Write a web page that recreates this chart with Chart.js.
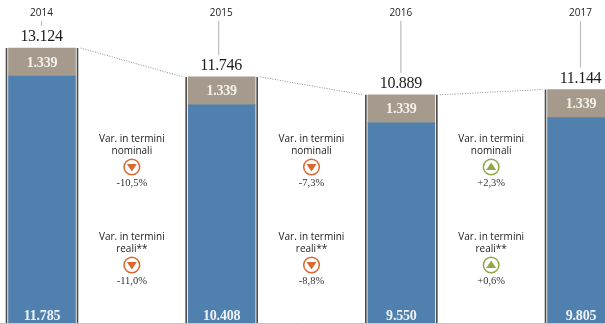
<!DOCTYPE html>
<html>
<head>
<meta charset="utf-8">
<title>Spesa 2014-2017</title>
<script src="https://cdn.jsdelivr.net/npm/chart.js@4"></script>
<style>
  html, body { margin: 0; padding: 0; background: #fff; overflow: hidden; }
  canvas { display: block; }
</style>
</head>
<body>
<canvas id="chart" width="605" height="324"></canvas>
<script>
var years = ['2014', '2015', '2016', '2017'];
var baseValues = [11785, 10408, 9550, 9805];
var topValues = [1339, 1339, 1339, 1339];
var totals = [13124, 11746, 10889, 11144];
var varNominal = [-10.5, -7.3, 2.3];
var varReal = [-11.0, -8.8, 0.6];

var SERIF = '"Liberation Serif", serif';
var SANS = '"Open Sans", sans-serif';

function dotted(n) {
  return String(n).replace(/\B(?=(\d{3})+$)/g, '.');
}

function percent(n) {
  return (n > 0 ? '+' : '') + n.toFixed(1).replace('.', ',') + '%';
}

function text(c, str, x, y, font, color, spacing) {
  c.font = font;
  c.fillStyle = color;
  c.letterSpacing = spacing || '0px';
  c.textAlign = 'center';
  c.textBaseline = 'middle';
  c.fillText(str, x, y);
}

// circle with a triangle pointing the way the value moved
function arrow(c, x, y, value) {
  var color = value < 0 ? '#d8682f' : '#8ea848';
  var dir = value < 0 ? 1 : -1;
  c.strokeStyle = color;
  c.fillStyle = color;
  c.lineWidth = 1.5;
  c.beginPath();
  c.arc(x, y, 7.8, 0, Math.PI * 2);
  c.stroke();
  c.beginPath();
  c.moveTo(x - 5, y - dir * 3);
  c.lineTo(x + 5, y - dir * 3);
  c.lineTo(x, y + dir * 4.6);
  c.closePath();
  c.fill();
}

function variationBlock(c, x, y, word, value) {
  text(c, 'Var. in termini', x, y, '10px ' + SANS, '#222', '0px');
  text(c, word, x, y + 12, '10px ' + SANS, '#222', '0px');
  arrow(c, x, y + 28, value);
  text(c, percent(value), x, y + 44, '10.5px ' + SERIF, '#333', '0px');
}

var annotations = {
  id: 'annotations',
  afterDatasetsDraw: function (chart) {
    var c = chart.ctx;
    var xs = chart.scales.x;
    var ys = chart.scales.y;
    var halfBar = chart.getDatasetMeta(0).data[0].width / 2;
    var bottom = ys.getPixelForValue(0);
    c.save();

    // dotted line joining the bar tops
    c.strokeStyle = '#8a8a8a';
    c.lineWidth = 1;
    c.setLineDash([1, 1.5]);
    for (var i = 0; i < years.length - 1; i++) {
      c.beginPath();
      c.moveTo(xs.getPixelForValue(i) + halfBar + 5, ys.getPixelForValue(totals[i]));
      c.lineTo(xs.getPixelForValue(i + 1) - halfBar - 5, ys.getPixelForValue(totals[i + 1]));
      c.stroke();
    }
    c.setLineDash([]);

    // baseline under the whole row
    c.strokeStyle = '#c4c4c4';
    c.lineWidth = 1;
    c.beginPath();
    c.moveTo(0, bottom + 0.5);
    c.lineTo(chart.width, bottom + 0.5);
    c.stroke();

    years.forEach(function (year, i) {
      var x = xs.getPixelForValue(i);
      var top = ys.getPixelForValue(totals[i]);

      // dark rules on both sides of each bar
      c.strokeStyle = '#4a4a4a';
      c.lineWidth = 1.6;
      [-1, 1].forEach(function (side) {
        c.beginPath();
        c.moveTo(x + side * (halfBar + 2), top);
        c.lineTo(x + side * (halfBar + 2), bottom);
        c.stroke();
      });

      // year and its leader down to the total (2015 leader sits off-centre)
      var leaderX = x - (i === 1 ? 3 : 0.5);
      text(c, year, x - 0.5, 13, '10px ' + SANS, '#222');
      c.strokeStyle = '#bdbdbd';
      c.lineWidth = 1.2;
      c.beginPath();
      c.moveTo(leaderX, 21);
      c.lineTo(leaderX, top - 22);
      c.stroke();

      text(c, dotted(totals[i]), x - 0.5, top - 11, '16px ' + SERIF, '#1c1c1c', '-0.3px');
      text(c, dotted(topValues[i]), x, ys.getPixelForValue(baseValues[i] + topValues[i] / 2) + 1, 'bold 14px ' + SERIF, '#f4f1ea', '-0.2px');
      text(c, dotted(baseValues[i]), x, bottom - 7, 'bold 14px ' + SERIF, '#eef2f6', '-0.2px');
    });

    // variation notes sit halfway between consecutive bars
    for (var j = 0; j < years.length - 1; j++) {
      var mid = (xs.getPixelForValue(j) + xs.getPixelForValue(j + 1)) / 2;
      variationBlock(c, mid, 139, 'nominali', varNominal[j]);
      variationBlock(c, mid, 237, 'reali**', varReal[j]);
    }
    c.restore();
  }
};

new Chart(document.getElementById('chart'), {
  type: 'bar',
  data: {
    labels: years,
    datasets: [
      { label: 'Base', data: baseValues, backgroundColor: '#5080ad', barThickness: 67, clip: false },
      { label: 'Quota', data: topValues, backgroundColor: '#a59a8b', barThickness: 67, clip: false }
    ]
  },
  options: {
    responsive: false,
    animation: false,
    layout: { padding: { left: 42, right: 24, top: 8.7, bottom: 1 } },
    plugins: { legend: { display: false }, tooltip: { enabled: false } },
    scales: {
      x: { display: false, stacked: true, offset: false },
      y: { display: false, stacked: true, min: 0, max: 15000 }
    }
  },
  plugins: [annotations]
});
</script>
</body>
</html>
